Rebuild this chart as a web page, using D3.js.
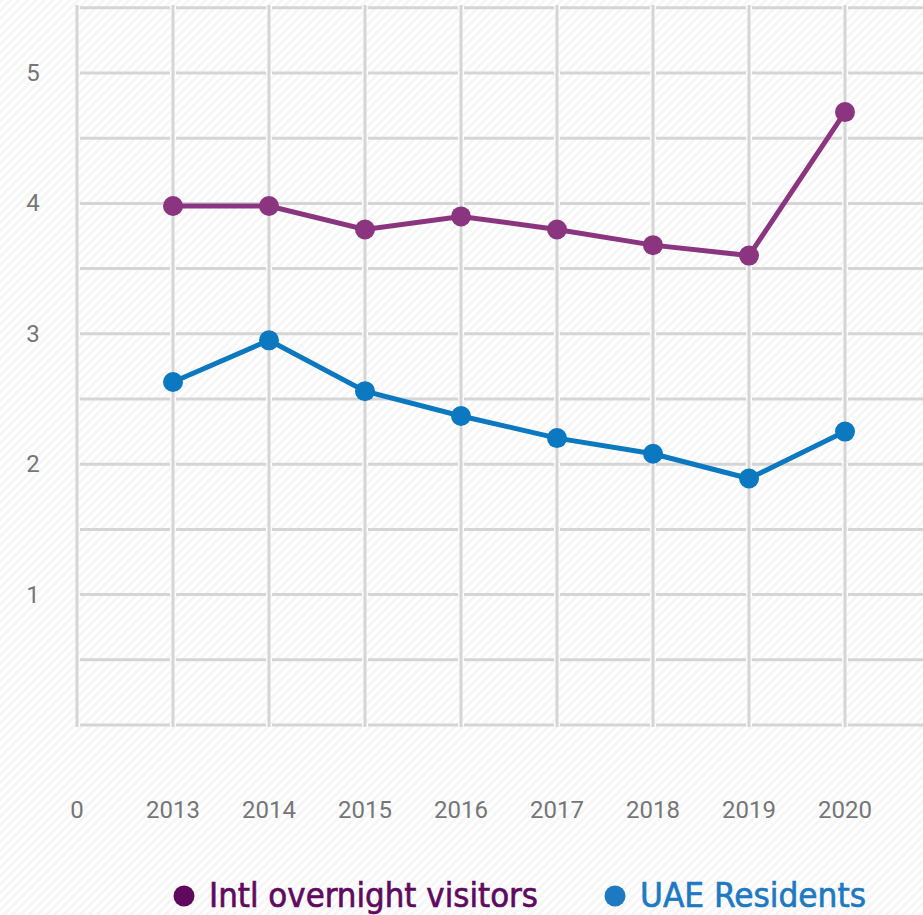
<!DOCTYPE html>
<html>
<head>
<meta charset="utf-8">
<script src="https://cdn.jsdelivr.net/npm/d3@7"></script>
<style>
  html, body { margin: 0; padding: 0; background: #fff; }
  svg { display: block; }
</style>
</head>
<body>
<script>
// chart data
var years = [2013, 2014, 2015, 2016, 2017, 2018, 2019, 2020];
var intlVisitors = [3.98, 3.98, 3.80, 3.90, 3.80, 3.68, 3.60, 4.70];
var uaeResidents = [2.63, 2.95, 2.56, 2.37, 2.20, 2.08, 1.89, 2.25];
var yTicks = [1, 2, 3, 4, 5];
var gridValues = [0, 0.5, 1, 1.5, 2, 2.5, 3, 3.5, 4, 4.5, 5, 5.5];
var seriesNames = ["Intl overnight visitors", "UAE Residents"];

var width = 923;
var height = 915;

var svg = d3.select("body")
            .append("svg")
            .attr("width", width)
            .attr("height", height);

// faint diagonal hatch background
var defs = svg.append("defs");
var pat = defs.append("pattern")
              .attr("id", "hatch")
              .attr("width", 6)
              .attr("height", 6)
              .attr("patternUnits", "userSpaceOnUse")
              .attr("patternTransform", "rotate(45)");
pat.append("rect").attr("width", 6).attr("height", 6).attr("fill", "#ffffff");
pat.append("rect").attr("width", 3).attr("height", 6).attr("fill", "#f6f6f6");

svg.append("rect")
   .attr("width", width)
   .attr("height", height)
   .attr("fill", "url(#hatch)");

// scales: index 0 is the "0" column, years follow
var x = d3.scaleLinear()
          .domain([0, years.length])
          .range([77, 77 + 96 * years.length]);

var y = d3.scaleLinear()
          .domain([0, 5])
          .range([725, 73]);

var gridColor = "#d5d5d5";

// horizontal grid lines, broken at each vertical line
var cols = d3.range(0, years.length + 1);
gridValues.forEach(function(v) {
  svg.append("g")
     .selectAll("line")
     .data(cols)
     .enter()
     .append("line")
     .attr("x1", function(i) { return x(i) + 3; })
     .attr("x2", function(i) { return x(i + 1) - 3; })
     .attr("y1", y(v))
     .attr("y2", y(v))
     .attr("stroke", gridColor)
     .attr("stroke-width", 3);
});

// vertical grid lines
svg.append("g")
   .selectAll("line")
   .data(cols)
   .enter()
   .append("line")
   .attr("x1", function(i) { return x(i); })
   .attr("x2", function(i) { return x(i); })
   .attr("y1", 5)
   .attr("y2", 727)
   .attr("stroke", gridColor)
   .attr("stroke-width", 3);

// y labels
svg.append("g")
   .selectAll("text")
   .data(yTicks)
   .enter()
   .append("text")
   .attr("x", 33)
   .attr("y", function(d) { return y(d) + 8; })
   .attr("text-anchor", "middle")
   .attr("font-family", "Roboto, 'DejaVu Sans', sans-serif")
   .attr("font-size", 24)
   .attr("fill", "#767676")
   .text(function(d) { return d; });

// x labels, "0" first
var xLabels = ["0"].concat(years.map(String));
svg.append("g")
   .selectAll("text")
   .data(xLabels)
   .enter()
   .append("text")
   .attr("x", function(d, i) { return x(i); })
   .attr("y", 818)
   .attr("text-anchor", "middle")
   .attr("font-family", "Roboto, 'DejaVu Sans', sans-serif")
   .attr("font-size", 24)
   .attr("fill", "#767676")
   .text(function(d) { return d; });

// series
var series = [
  { name: seriesNames[0], values: intlVisitors, color: "#8b3580", legendColor: "#5f0a5f", lx: 184 },
  { name: seriesNames[1], values: uaeResidents, color: "#0b78bf", legendColor: "#1d79c2", lx: 615 }
];

var line = d3.line()
             .x(function(d, i) { return x(i + 1); })
             .y(function(d) { return y(d); });

series.forEach(function(s) {
  svg.append("path")
     .datum(s.values)
     .attr("d", line)
     .attr("fill", "none")
     .attr("stroke", s.color)
     .attr("stroke-width", 5);

  svg.append("g")
     .selectAll("circle")
     .data(s.values)
     .enter()
     .append("circle")
     .attr("cx", function(d, i) { return x(i + 1); })
     .attr("cy", function(d) { return y(d); })
     .attr("r", 10)
     .attr("fill", s.color);
});

// legend
var legendWidths = [329, 226];
series.forEach(function(s, i) {
  svg.append("circle")
     .attr("cx", s.lx)
     .attr("cy", 896)
     .attr("r", 10.5)
     .attr("fill", s.legendColor);
  svg.append("text")
     .attr("x", s.lx + 25)
     .attr("y", 907)
     .attr("font-family", "'DejaVu Sans Condensed', 'DejaVu Sans', sans-serif")
     .attr("font-size", 33)
     .attr("textLength", legendWidths[i])
     .attr("lengthAdjust", "spacingAndGlyphs")
     .attr("fill", s.legendColor)
     .attr("stroke", s.legendColor)
     .attr("stroke-width", 0.6)
     .text(s.name);
});
</script>
</body>
</html>
